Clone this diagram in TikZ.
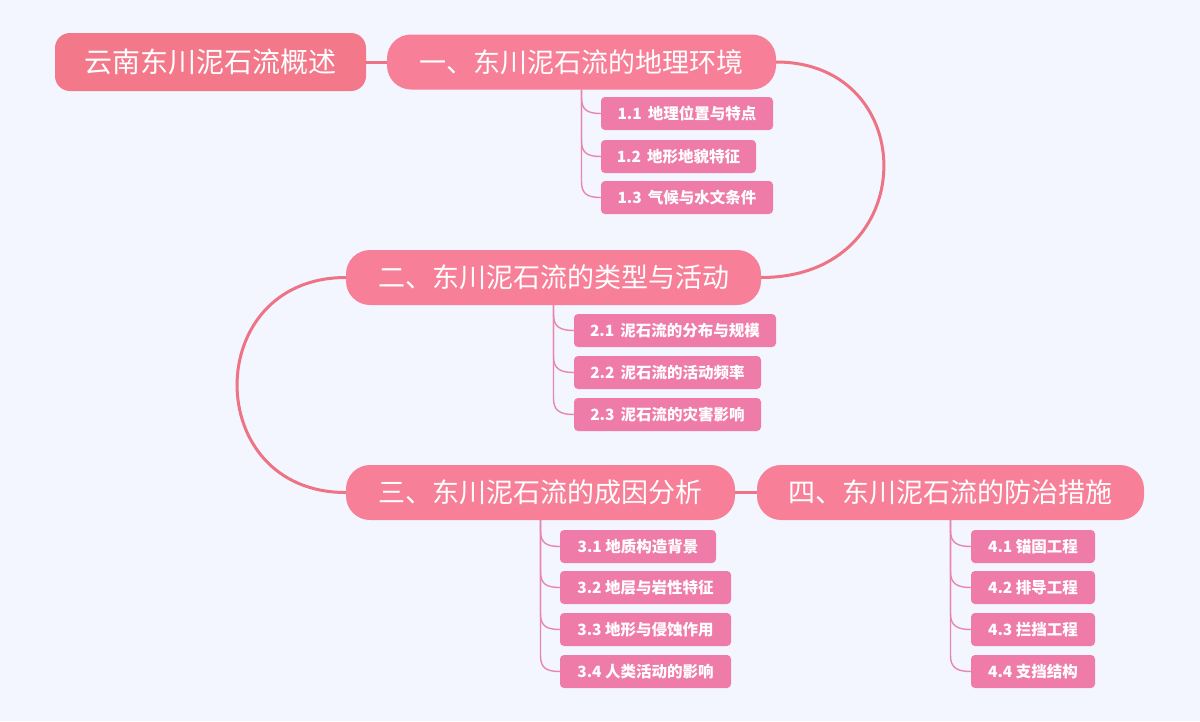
\documentclass[tikz,border=0pt]{standalone}
\usepackage{fontspec}
\setmainfont{Noto Sans CJK SC}
\usetikzlibrary{calc}
\definecolor{bgc}{HTML}{F3F6FE}
\definecolor{rootc}{HTML}{F2788A}
\definecolor{mainc}{HTML}{F87F98}
\definecolor{subc}{HTML}{EF7BA9}
\definecolor{mline}{HTML}{EE7384}
\definecolor{sline}{HTML}{E886B0}
\tikzset{
  rootbox/.style={fill=rootc, rounded corners=15pt, text=white, font=\fontsize{28}{32}\selectfont, minimum height=58pt, inner sep=0pt},
  mainbox/.style={fill=mainc, rounded corners=24pt, text=white, font=\fontsize{27}{30}\selectfont, minimum height=55pt, inner sep=0pt},
  subbox/.style={fill=subc, rounded corners=4pt, text=white, font=\bfseries\fontsize{15.5}{18}\selectfont, minimum height=33pt, inner sep=0pt},
  mainline/.style={draw=mline, line width=3pt},
  subline/.style={draw=sline, line width=1.4pt},
}
\begin{document}
\begin{tikzpicture}[x=1pt,y=-1pt]
\fill[bgc] (0,0) rectangle (1200,721);
\useasboundingbox (0,0) rectangle (1200,721);

\node[rootbox, minimum width=311pt] (root) at (210.5,62) {云南东川泥石流概述};
\node[mainbox, minimum width=389pt] (m1) at (581.5,62) {一、东川泥石流的地理环境};
\node[mainbox, minimum width=415pt] (m2) at (553.5,277.5) {二、东川泥石流的类型与活动};
\node[mainbox, minimum width=389pt] (m3) at (540.5,492.5) {三、东川泥石流的成因分析};
\node[mainbox, minimum width=387pt] (m4) at (950.5,492.5) {四、东川泥石流的防治措施};

\node[subbox, minimum width=172pt] (s11) at (687,113.5) {1.1\, 地理位置与特点};
\node[subbox, minimum width=155pt] (s12) at (678.5,156.5) {1.2\, 地形地貌特征};
\node[subbox, minimum width=172pt] (s13) at (687,197.5) {1.3\, 气候与水文条件};

\node[subbox, minimum width=202pt] (s21) at (675,330.5) {2.1\, 泥石流的分布与规模};
\node[subbox, minimum width=187pt] (s22) at (667.5,372.5) {2.2\, 泥石流的活动频率};
\node[subbox, minimum width=187pt] (s23) at (667.5,414.5) {2.3\, 泥石流的灾害影响};

\node[subbox, minimum width=156pt] (s31) at (638,546.5) {3.1 地质构造背景};
\node[subbox, minimum width=171pt] (s32) at (645.5,587.5) {3.2 地层与岩性特征};
\node[subbox, minimum width=171pt] (s33) at (645.5,629.5) {3.3 地形与侵蚀作用};
\node[subbox, minimum width=171pt] (s34) at (645.5,671.5) {3.4 人类活动的影响};

\node[subbox, minimum width=124pt] (s41) at (1033,546.5) {4.1 锚固工程};
\node[subbox, minimum width=124pt] (s42) at (1033,587.5) {4.2 排导工程};
\node[subbox, minimum width=124pt] (s43) at (1033,629.5) {4.3 拦挡工程};
\node[subbox, minimum width=124pt] (s44) at (1033,671.5) {4.4 支挡结构};

% main connectors
\draw[mainline] (root.east) -- (m1.west);
\draw[mainline] (m3.east) -- (m4.west);
\draw[mainline] (m1.east) .. controls ($(m1.east)+(146,0)$) and ($(m2.east)+(161,0)$) .. (m2.east);
\draw[mainline] (m2.west) .. controls ($(m2.west)+(-145,0)$) and ($(m3.west)+(-145,0)$) .. (m3.west);

% sub connectors
\foreach \m/\s in {m1/s11,m1/s12,m1/s13,m2/s21,m2/s22,m2/s23,m3/s31,m3/s32,m3/s33,m3/s34,m4/s41,m4/s42,m4/s43,m4/s44}{
  \draw[subline] (\m.south) -- ([yshift=16pt]\m.south |- \s.west) .. controls ([yshift=4pt]\m.south |- \s.west) and ([xshift=-14pt]\s.west) .. (\s.west);
}
\end{tikzpicture}
\end{document}
